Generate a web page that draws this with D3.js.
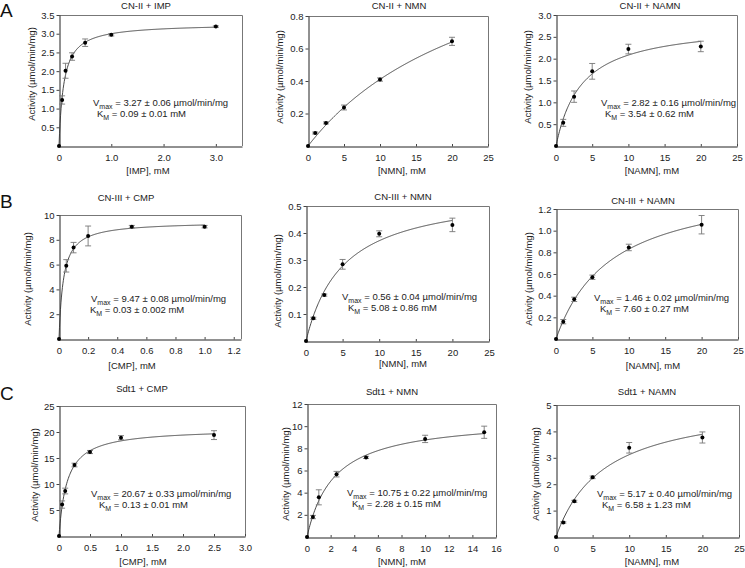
<!DOCTYPE html>
<html>
<head>
<meta charset="utf-8">
<script src="https://cdn.jsdelivr.net/npm/d3@7"></script>
<style>
  body { margin: 0; background: #fff; }
  svg { font-family: "Liberation Sans", Arial, sans-serif; }
</style>
</head>
<body>
<div id="chart"></div>
<script>
// ---- data, one row per panel: A1 A2 A3 / B1 B2 B3 / C1 C2 C3 ----
const panelLetters = ['A', 'B', 'C'];

const titles = [
  'CN-II + IMP', 'CN-II + NMN', 'CN-II + NAMN',
  'CN-III + CMP', 'CN-III + NMN', 'CN-III + NAMN',
  'Sdt1 + CMP', 'Sdt1 + NMN', 'Sdt1 + NAMN',
];

const xTitles = [
  '[IMP], mM', '[NMN], mM', '[NAMN], mM',
  '[CMP], mM', '[NMN], mM', '[NAMN], mM',
  '[CMP], mM', '[NMN], mM', '[NAMN], mM',
];

const yTitle = 'Activity (\u00b5mol/min/mg)';

// substrate concentration (mM)
const conc = [
  [0, 0.06, 0.125, 0.25, 0.5, 1, 3],
  [0, 1, 2.5, 5, 10, 20],
  [0, 1, 2.5, 5, 10, 20],
  [0, 0.05, 0.1, 0.2, 0.5, 1],
  [0, 1, 2.5, 5, 10, 20],
  [0, 1, 2.5, 5, 10, 20],
  [0, 0.05, 0.1, 0.25, 0.5, 1, 2.5],
  [0, 0.5, 1, 2.5, 5, 10, 15],
  [0, 1, 2.5, 5, 10, 20],
];

// measured activity (umol/min/mg)
const activity = [
  [0, 1.23, 2.01, 2.39, 2.76, 2.97, 3.19],
  [0, 0.08, 0.142, 0.237, 0.409, 0.644],
  [0, 0.53, 1.13, 1.71, 2.22, 2.28],
  [0, 5.9, 7.37, 8.31, 9.06, 9.06],
  [0, 0.084, 0.17, 0.284, 0.397, 0.43],
  [0, 0.16, 0.366, 0.57, 0.845, 1.055],
  [0, 6.05, 8.65, 13.65, 16.15, 18.9, 19.4],
  [0, 1.8, 3.58, 5.67, 7.18, 8.85, 9.45],
  [0, 0.55, 1.35, 2.26, 3.38, 3.77],
];

// error (+/-)
const errors = [
  [0, 0.11, 0.2, 0.1, 0.1, 0.03, 0.02],
  [0, 0.006, 0.006, 0.015, 0.01, 0.025],
  [0, 0.08, 0.13, 0.18, 0.11, 0.12],
  [0, 0.5, 0.42, 0.8, 0.1, 0.1],
  [0, 0.004, 0.004, 0.018, 0.011, 0.025],
  [0, 0.02, 0.02, 0.02, 0.03, 0.085],
  [0, 0.7, 0.55, 0.35, 0.3, 0.4, 0.85],
  [0, 0.15, 0.68, 0.25, 0.1, 0.33, 0.55],
  [0, 0.03, 0.04, 0.05, 0.2, 0.21],
];

// Michaelis-Menten fit (A2 has no printed values; estimated from its curve)
const vmax = [3.27, 1.46, 2.82, 9.47, 0.56, 1.46, 20.67, 10.75, 5.17];
const km = [0.09, 25.6, 3.54, 0.03, 5.08, 7.60, 0.13, 2.28, 6.58];
const vmaxText = ['3.27 \u00b1 0.06', null, '2.82 \u00b1 0.16', '9.47 \u00b1 0.08', '0.56 \u00b1 0.04',
  '1.46 \u00b1 0.02', '20.67 \u00b1 0.33', '10.75 \u00b1 0.22', '5.17 \u00b1 0.40'];
const kmText = ['0.09 \u00b1 0.01', null, '3.54 \u00b1 0.62', '0.03 \u00b1 0.002', '5.08 \u00b1 0.86',
  '7.60 \u00b1 0.27', '0.13 \u00b1 0.01', '2.28 \u00b1 0.15', '6.58 \u00b1 1.23'];

// axis extents and tick labels
const xMax = [3.5, 25, 25, 1.25, 25, 25, 3.0, 16, 25];
const yMax = [3.5, 0.8, 3.0, 10, 0.5, 1.2, 25, 12, 5];
const xTickLabels = [
  ['0', '1.0', '2.0', '3.0'],
  ['0', '5', '10', '15', '20', '25'],
  ['0', '5', '10', '15', '20', '25'],
  ['0', '0.2', '0.4', '0.6', '0.8', '1.0', '1.2'],
  ['0', '5', '10', '15', '20', '25'],
  ['0', '5', '10', '15', '20', '25'],
  ['0', '0.5', '1.0', '1.5', '2.0', '2.5', '3.0'],
  ['0', '2', '4', '6', '8', '10', '12', '14', '16'],
  ['0', '5', '10', '15', '20', '25'],
];
const yTickLabels = [
  ['0.5', '1.0', '1.5', '2.0', '2.5', '3.0', '3.5'],
  ['0.2', '0.4', '0.6', '0.8'],
  ['0.5', '1.0', '1.5', '2.0', '2.5', '3.0'],
  ['2', '4', '6', '8', '10'],
  ['0.1', '0.2', '0.3', '0.4', '0.5'],
  ['0.2', '0.4', '0.6', '0.8', '1.0', '1.2'],
  ['5', '10', '15', '20', '25'],
  ['2', '4', '6', '8', '10', '12'],
  ['1', '2', '3', '4', '5'],
];

// ---- layout (pixel boxes of each panel) ----
const layout = [
  { l: 59, r: 242, t: 15, b: 146, tx: 146, ty: 9, yl: [32, 74], xl: [148, 174], va: [93, 106], ka: [97, 117] },
  { l: 308, r: 488, t: 16, b: 146, tx: 399, ty: 9, yl: [280, 77], xl: [402, 174] },
  { l: 556, r: 737, t: 15, b: 146, tx: 650, ty: 9, yl: [528, 77], xl: [652, 174], va: [601, 106], ka: [605, 117] },
  { l: 59, r: 241, t: 215, b: 339, tx: 126, ty: 201, yl: [28, 279], xl: [132, 369], va: [91, 302], ka: [90, 313] },
  { l: 306, r: 489, t: 206, b: 341, tx: 403, ty: 200, yl: [278, 281], xl: [403, 367], va: [342, 300], ka: [348, 311] },
  { l: 556, r: 738, t: 209, b: 339, tx: 643, ty: 204, yl: [529, 279], xl: [653, 369], va: [594, 301], ka: [600, 312] },
  { l: 59, r: 245, t: 406, b: 536, tx: 142, ty: 392, yl: [35, 475], xl: [143, 565], va: [91, 497], ka: [99, 508] },
  { l: 307, r: 496, t: 404, b: 537, tx: 392, ty: 395, yl: [286, 474], xl: [402, 565], va: [347, 496], ka: [352, 507] },
  { l: 556, r: 739, t: 405, b: 537, tx: 647, ty: 395, yl: [536, 474], xl: [652, 565], va: [597, 497], ka: [602, 508] },
];
const letterY = [17, 208, 400];

const width = 745;
const height = 568;
const fontSize = 9.5;

const svg = d3.select('#chart')
  .append('svg')
  .attr('width', width)
  .attr('height', height);

// panel letters
svg.selectAll('.letter')
  .data(panelLetters)
  .enter().append('text')
  .attr('class', 'letter')
  .attr('x', 0)
  .attr('y', (d, i) => letterY[i])
  .style('font-size', '19px')
  .style('fill', '#111')
  .text((d) => d);

titles.forEach((title, i) => {
  const box = layout[i];
  const g = svg.append('g');

  const xScale = d3.scaleLinear().domain([0, xMax[i]]).range([box.l, box.r]);
  const yScale = d3.scaleLinear().domain([0, yMax[i]]).range([box.b, box.t]);

  // frame (top + right)
  g.append('path')
    .attr('d', `M${box.l},${box.t + 0.5}H${box.r + 0.5}V${box.b}`)
    .attr('fill', 'none')
    .attr('stroke', '#777')
    .attr('stroke-width', 1);

  // x axis
  const xTicks = xTickLabels[i];
  const xAxis = g.append('g')
    .attr('transform', `translate(0,${box.b + 0.5})`)
    .call(d3.axisBottom(xScale)
      .tickValues(xTicks.map(Number))
      .tickFormat((d, k) => xTicks[k])
      .tickSizeInner(-2.5)
      .tickSizeOuter(0)
      .tickPadding(7.5));

  // y axis
  const yTicks = yTickLabels[i];
  const yAxis = g.append('g')
    .attr('transform', `translate(${box.l + 0.5},0)`)
    .call(d3.axisLeft(yScale)
      .tickValues(yTicks.map(Number))
      .tickFormat((d, k) => yTicks[k])
      .tickSizeInner(3)
      .tickSizeOuter(0)
      .tickPadding(2));

  [xAxis, yAxis].forEach((ax) => {
    ax.selectAll('text')
      .style('font-size', `${fontSize}px`)
      .style('font-family', '"Liberation Sans", Arial, sans-serif')
      .style('fill', '#222');
    ax.select('.domain').attr('stroke', '#222');
    ax.selectAll('.tick line').attr('stroke', '#444');
  });

  // title
  g.append('text')
    .attr('x', box.tx)
    .attr('y', box.ty)
    .attr('text-anchor', 'middle')
    .style('font-size', `${fontSize}px`)
    .style('fill', '#222')
    .text(title);

  // axis titles
  g.append('text')
    .attr('x', box.xl[0])
    .attr('y', box.xl[1])
    .attr('text-anchor', 'middle')
    .style('font-size', `${fontSize}px`)
    .style('fill', '#222')
    .text(xTitles[i]);

  g.append('text')
    .attr('transform', `translate(${box.yl[0]},${box.yl[1]}) rotate(-90)`)
    .attr('text-anchor', 'middle')
    .attr('dy', '0.35em')
    .style('font-size', `${fontSize}px`)
    .style('fill', '#222')
    .text(yTitle);

  // fitted Michaelis-Menten curve
  const lastX = d3.max(conc[i]);
  const curveX = d3.range(0, lastX, lastX / 300).concat([lastX]);
  const line = d3.line()
    .x((d) => xScale(d))
    .y((d) => yScale((vmax[i] * d) / (km[i] + d)));

  g.append('path')
    .datum(curveX)
    .attr('d', line)
    .attr('fill', 'none')
    .attr('stroke', '#333')
    .attr('stroke-width', 0.9);

  // error bars
  const pts = conc[i].map((c, k) => ({ x: c, y: activity[i][k], e: errors[i][k] }));
  const bars = g.selectAll('.err')
    .data(pts.filter((d) => d.e > 0))
    .enter().append('g')
    .attr('stroke', '#777')
    .attr('stroke-width', 0.9);

  bars.append('line')
    .attr('x1', (d) => xScale(d.x))
    .attr('x2', (d) => xScale(d.x))
    .attr('y1', (d) => yScale(d.y - d.e))
    .attr('y2', (d) => yScale(d.y + d.e));
  bars.append('line')
    .attr('x1', (d) => xScale(d.x) - 3)
    .attr('x2', (d) => xScale(d.x) + 3)
    .attr('y1', (d) => yScale(d.y + d.e))
    .attr('y2', (d) => yScale(d.y + d.e));
  bars.append('line')
    .attr('x1', (d) => xScale(d.x) - 3)
    .attr('x2', (d) => xScale(d.x) + 3)
    .attr('y1', (d) => yScale(d.y - d.e))
    .attr('y2', (d) => yScale(d.y - d.e));

  // data points
  g.selectAll('.pt')
    .data(pts)
    .enter().append('circle')
    .attr('cx', (d) => xScale(d.x))
    .attr('cy', (d) => yScale(d.y))
    .attr('r', 2)
    .attr('fill', '#000');

  // fit parameters
  if (vmaxText[i]) {
    const v = g.append('text')
      .attr('x', box.va[0])
      .attr('y', box.va[1])
      .style('font-size', `${fontSize}px`)
      .style('fill', '#222');
    v.append('tspan').text('V');
    v.append('tspan').attr('dy', 2.5).style('font-size', '7px').text('max');
    v.append('tspan').attr('dy', -2.5).text(` = ${vmaxText[i]} \u00b5mol/min/mg`);

    const k = g.append('text')
      .attr('x', box.ka[0])
      .attr('y', box.ka[1])
      .style('font-size', `${fontSize}px`)
      .style('fill', '#222');
    k.append('tspan').text('K');
    k.append('tspan').attr('dy', 2.5).style('font-size', '7px').text('M');
    k.append('tspan').attr('dy', -2.5).text(` = ${kmText[i]} mM`);
  }
});
</script>
</body>
</html>
